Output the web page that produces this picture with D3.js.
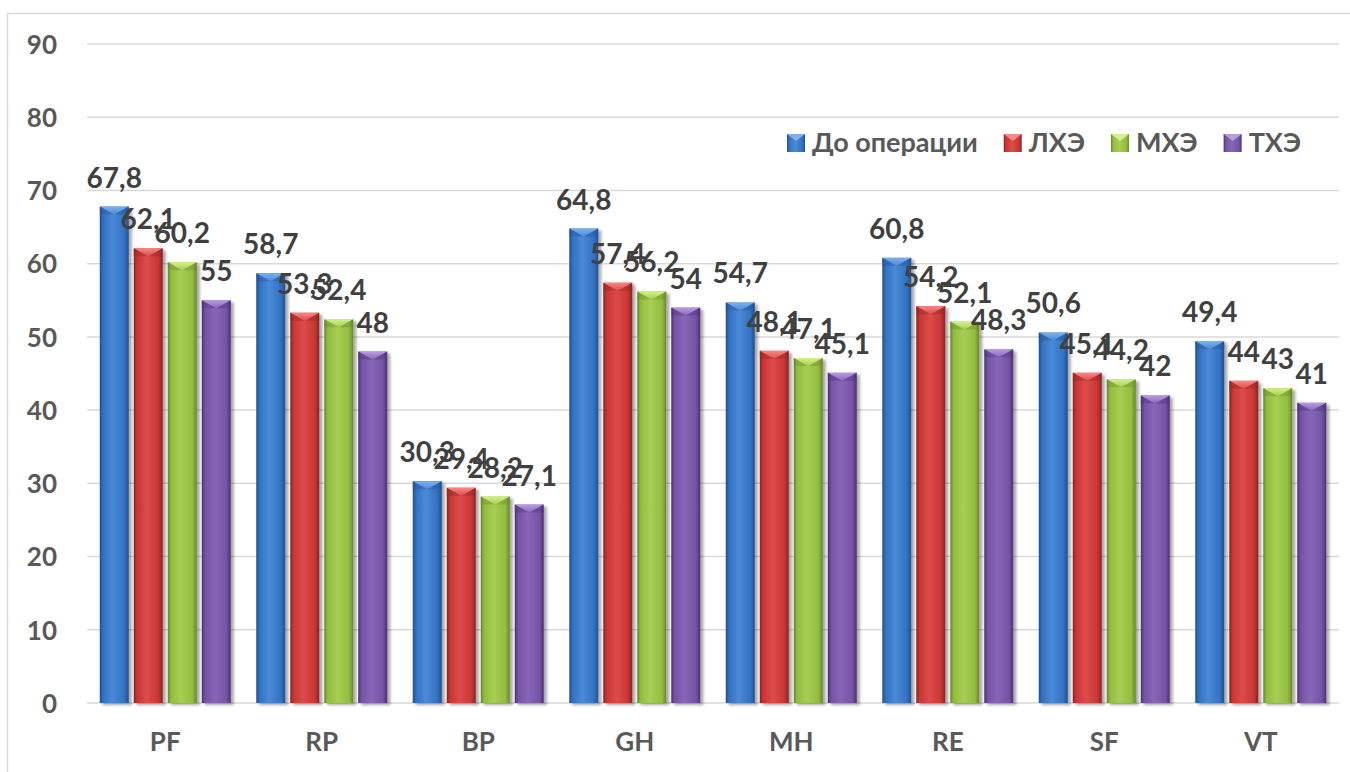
<!DOCTYPE html>
<html>
<head>
<meta charset="utf-8">
<script src="https://cdn.jsdelivr.net/npm/d3@7"></script>
<style>
  html, body { margin: 0; padding: 0; background: #ffffff; }
  svg { display: block; }
  text { font-family: Lato, "Open Sans", "Noto Sans", sans-serif; font-weight: 700; }
</style>
</head>
<body>
<svg id="chart" width="1350" height="772"></svg>
<script>
// Quality-of-life scale scores before and after surgery
const categories = ["PF", "RP", "BP", "GH", "MH", "RE", "SF", "VT"];
const seriesNames = ["До операции", "ЛХЭ", "МХЭ", "ТХЭ"];
const beforeSurgery = [67.8, 58.7, 30.3, 64.8, 54.7, 60.8, 50.6, 49.4];
const lhe = [62.1, 53.3, 29.4, 57.4, 48.1, 54.2, 45.1, 44];
const mhe = [60.2, 52.4, 28.2, 56.2, 47.1, 52.1, 44.2, 43];
const the = [55, 48, 27.1, 54, 45.1, 48.3, 42, 41];
const yTicks = [0, 10, 20, 30, 40, 50, 60, 70, 80, 90];

const seriesValues = [beforeSurgery, lhe, mhe, the];

// Palette per series: edge, base, highlight
const palette = [
  { edge: "#234f8f", base: "#3272c2", light: "#4a8ad8", cap: "#7fb0ec" },
  { edge: "#8a2424", base: "#c93634", light: "#dc4c49", cap: "#f58a86" },
  { edge: "#67872a", base: "#93bd3f", light: "#a6cf52", cap: "#d4f08c" },
  { edge: "#4a3172", base: "#7553a6", light: "#8766b8", cap: "#b79de0" }
];

const svg = d3.select("#chart");
const defs = svg.append("defs");

palette.forEach((p, i) => {
  const g = defs.append("linearGradient").attr("id", "bar" + i)
    .attr("x1", "0").attr("x2", "1").attr("y1", "0").attr("y2", "0");
  g.append("stop").attr("offset", "0").attr("stop-color", p.edge);
  g.append("stop").attr("offset", "0.12").attr("stop-color", p.base);
  g.append("stop").attr("offset", "0.45").attr("stop-color", p.light);
  g.append("stop").attr("offset", "0.85").attr("stop-color", p.base);
  g.append("stop").attr("offset", "1").attr("stop-color", p.edge);

  const c = defs.append("linearGradient").attr("id", "cap" + i)
    .attr("x1", "0").attr("x2", "0").attr("y1", "0").attr("y2", "1");
  c.append("stop").attr("offset", "0").attr("stop-color", p.cap);
  c.append("stop").attr("offset", "1").attr("stop-color", p.light);
});

const shadow = defs.append("filter").attr("id", "shadow")
  .attr("x", "-20%").attr("y", "-5%").attr("width", "150%").attr("height", "115%");
shadow.append("feGaussianBlur").attr("in", "SourceAlpha").attr("stdDeviation", 1.6).attr("result", "b");
shadow.append("feOffset").attr("in", "b").attr("dx", 2.5).attr("dy", 2).attr("result", "o");
shadow.append("feComponentTransfer").attr("in", "o").attr("result", "s")
  .append("feFuncA").attr("type", "linear").attr("slope", 0.35);
const merge = shadow.append("feMerge");
merge.append("feMergeNode").attr("in", "s");
merge.append("feMergeNode").attr("in", "SourceGraphic");

// Outer frame (left and top edges visible)
svg.append("path")
  .attr("d", "M7.5,772 L7.5,13.5 L1350,13.5")
  .attr("fill", "none").attr("stroke", "#d9d9d9").attr("stroke-width", 1.5);

const plotLeft = 87, plotRight = 1339;
const y = d3.scaleLinear().domain([0, 90]).range([703, 44]);
const x0 = d3.scaleBand().domain(categories).range([plotLeft, plotRight]).padding(0);
const x1 = d3.scaleBand().domain(d3.range(seriesNames.length))
  .range([12.75, x0.bandwidth() - 12.75]).paddingInner(0.147).paddingOuter(0);

// Gridlines
svg.append("g").selectAll("line").data(yTicks).join("line")
  .attr("x1", plotLeft).attr("x2", plotRight)
  .attr("y1", d => y(d)).attr("y2", d => y(d))
  .attr("stroke", "#d9d9d9").attr("stroke-width", 1.5);

// Y axis tick labels
const yAxis = d3.axisLeft(y).tickValues(yTicks).tickSize(0).tickPadding(0);
const yg = svg.append("g").attr("transform", "translate(57,1)").call(yAxis);
yg.select(".domain").remove();
yg.selectAll("text").attr("font-size", 26).attr("fill", "#595959")
  .style("font-family", "Lato, 'Open Sans', sans-serif").style("font-weight", 700);

// Category labels
const xAxis = d3.axisBottom(x0).tickSize(0).tickPadding(0);
const xg = svg.append("g").attr("transform", "translate(0,733)").call(xAxis);
xg.select(".domain").remove();
xg.selectAll("text").attr("font-size", 26).attr("fill", "#595959").attr("dy", "0.71em")
  .style("font-family", "Lato, 'Open Sans', sans-serif").style("font-weight", 700);

// Flatten data
const rows = [];
categories.forEach((cat, ci) => {
  seriesValues.forEach((vals, si) => rows.push({ cat, si, v: vals[ci] }));
});

const bw = x1.bandwidth();
const capH = 8;

const bars = svg.append("g").selectAll("g").data(rows).join("g")
  .attr("transform", d => `translate(${x0(d.cat) + x1(d.si)},0)`);

bars.append("rect")
  .attr("x", 0).attr("y", d => y(d.v))
  .attr("width", bw).attr("height", d => y(0) - y(d.v))
  .attr("fill", d => `url(#bar${d.si})`)
  .attr("filter", "url(#shadow)");

// Bevelled top cap
bars.append("path")
  .attr("d", d => {
    const t = y(d.v);
    return `M0,${t} L${bw},${t} L${bw / 2},${t + capH} Z`;
  })
  .attr("fill", d => `url(#cap${d.si})`);

// Darker side facets of the cap
bars.append("path")
  .attr("d", d => {
    const t = y(d.v);
    return `M0,${t} L${bw / 2},${t + capH} L0,${t + capH} Z M${bw},${t} L${bw / 2},${t + capH} L${bw},${t + capH} Z`;
  })
  .attr("fill", d => palette[d.si].edge).attr("opacity", 0.35);

// Value labels
svg.append("g").selectAll("text").data(rows).join("text")
  .attr("x", d => x0(d.cat) + x1(d.si) + bw / 2)
  .attr("y", d => y(d.v) - 19)
  .attr("text-anchor", "middle")
  .attr("font-size", 28)
  .attr("fill", "#404040")
  .text(d => String(d.v).replace(".", ","));

// Legend
const legend = svg.append("g");
let lx = 787;
seriesNames.forEach((name, i) => {
  const item = legend.append("g").attr("transform", `translate(${lx},0)`);
  item.append("rect").attr("x", 0).attr("y", 134).attr("width", 18).attr("height", 18)
    .attr("fill", `url(#bar${i})`);
  item.append("path").attr("d", "M0,134 L18,134 L9,141 Z").attr("fill", palette[i].cap);
  const t = item.append("text").attr("x", 25).attr("y", 152)
    .attr("font-size", 27).attr("fill", "#595959").text(name);
  lx += 25 + t.node().getComputedTextLength() + 26;
});
</script>
</body>
</html>
